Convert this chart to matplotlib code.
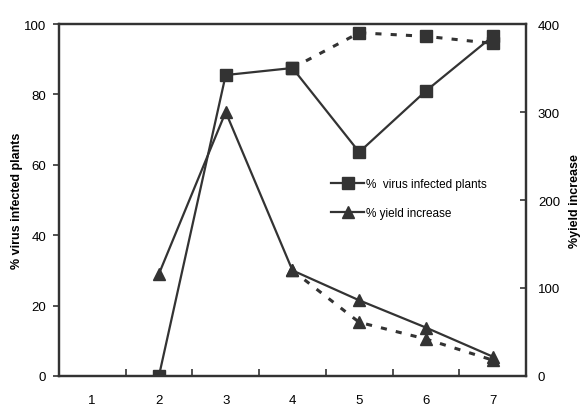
import matplotlib.pyplot as plt
from matplotlib.ticker import FixedLocator

plt.rcParams['font.family'] = ['Liberation Sans', 'DejaVu Sans']

categories = [1, 2, 3, 4, 5, 6, 7]

# % virus infected plants (left axis)
virus_x = [2, 3, 4, 5, 6, 7]
virus_solid = [0, 85.5, 87.5, 63.6, 81, 96.5]
virus_dash_x = [4, 5, 6, 7]
virus_dash = [87.5, 97.5, 96.5, 94.5]

# % yield increase (right axis)
yield_x = [2, 3, 4, 5, 6, 7]
yield_solid = [116, 300, 120, 86, 55, 22]
yield_dash_x = [4, 5, 6, 7]
yield_dash = [120, 61, 42, 18]

col = '#333333'

fig = plt.figure(figsize=(5.82, 4.10), dpi=100)
ax = fig.add_axes([0.101, 0.0805, 0.803, 0.8585])
ax2 = ax.twinx()

l1, = ax.plot(virus_x, virus_solid, '-', color=col, lw=1.6, marker='s', ms=8.5,
              label='%  virus infected plants')
ax.plot(virus_dash_x, virus_dash, color=col, lw=2.2, ls=(0, (2, 3)), marker='s', ms=8.5)

l2, = ax2.plot(yield_x, yield_solid, '-', color=col, lw=1.6, marker='^', ms=9,
               label='% yield increase')
ax2.plot(yield_dash_x, yield_dash, color=col, lw=2.2, ls=(0, (2, 3)), marker='^', ms=9)

ax.set_xlim(0.5, 7.5)
ax.set_ylim(0, 100)
ax2.set_ylim(0, 400)

ax.set_xticks(categories)
ax.xaxis.set_minor_locator(FixedLocator([1.5, 2.5, 3.5, 4.5, 5.5, 6.5]))
ax.tick_params(axis='x', which='major', length=0, pad=13, labelsize=9.5)
ax.tick_params(axis='x', which='minor', direction='in', length=5, width=1.2, color=col)
ax.set_yticks([0, 20, 40, 60, 80, 100])
ax.tick_params(axis='y', direction='out', length=4, width=1.2, labelsize=9.5, pad=5, color=col)
ax2.set_yticks([0, 100, 200, 300, 400])
ax2.tick_params(axis='y', direction='in', length=4, width=1.2, labelsize=9.5, pad=8.5, color=col)

for a in (ax, ax2):
    for s in a.spines.values():
        s.set_color(col)
        s.set_linewidth(1.6)

ax.set_ylabel('% virus infected plants', fontsize=9, fontweight='bold', labelpad=1)
ax2.set_ylabel('%yield increase', fontsize=9, fontweight='bold', rotation=90, labelpad=6)

ax.legend([l1, l2], [l1.get_label(), l2.get_label()], loc='center left',
          bbox_to_anchor=(0.57, 0.505), frameon=False, fontsize=8.5,
          handlelength=2.8, handletextpad=0.2, labelspacing=1.45, borderpad=0)

fig.savefig('out.png', dpi=100)
